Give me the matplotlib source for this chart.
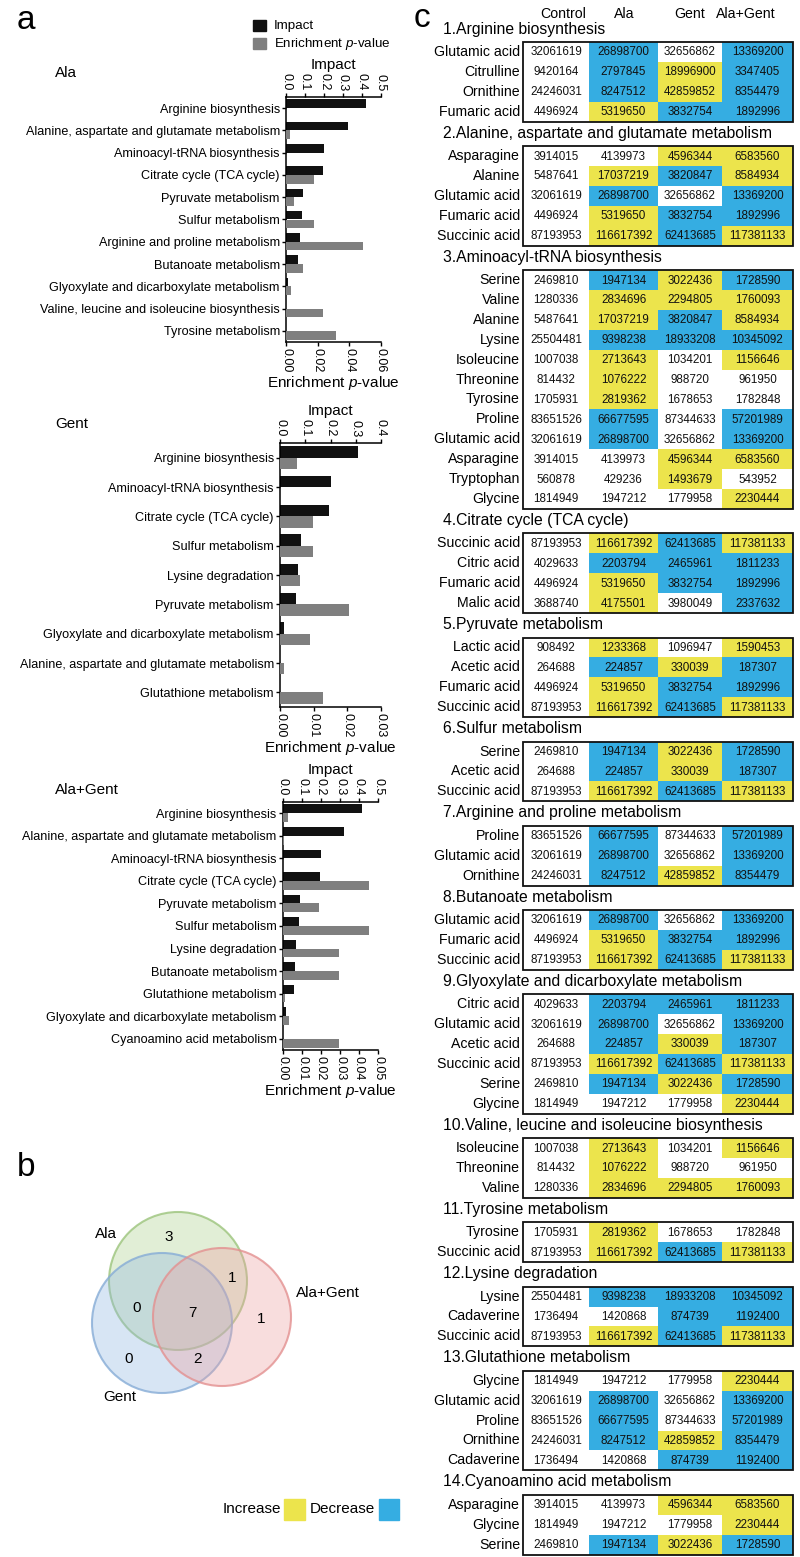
import numpy as np
import matplotlib
matplotlib.use('Agg')
import matplotlib.pyplot as plt
import matplotlib.patches as patches
from matplotlib import font_manager

# ---- panel a data: KEGG pathway analysis ----
ala_paths = ['Arginine biosynthesis', 'Alanine, aspartate and glutamate metabolism',
             'Aminoacyl-tRNA biosynthesis', 'Citrate cycle (TCA cycle)', 'Pyruvate metabolism',
             'Sulfur metabolism', 'Arginine and proline metabolism', 'Butanoate metabolism',
             'Glyoxylate and dicarboxylate metabolism', 'Valine, leucine and isoleucine biosynthesis',
             'Tyrosine metabolism']
ala_impact = [0.42, 0.326, 0.20, 0.195, 0.09, 0.084, 0.074, 0.063, 0.012, 0.0, 0.0]
ala_p = [0.0003, 0.0025, 0.0002, 0.0177, 0.005, 0.0177, 0.0486, 0.011, 0.003, 0.0234, 0.0316]

gent_paths = ['Arginine biosynthesis', 'Aminoacyl-tRNA biosynthesis', 'Citrate cycle (TCA cycle)',
              'Sulfur metabolism', 'Lysine degradation', 'Pyruvate metabolism',
              'Glyoxylate and dicarboxylate metabolism', 'Alanine, aspartate and glutamate metabolism',
              'Glutathione metabolism']
gent_impact = [0.31, 0.20, 0.195, 0.084, 0.071, 0.063, 0.015, 0.0, 0.0]
gent_p = [0.005, 0.0001, 0.0098, 0.0098, 0.006, 0.0205, 0.0089, 0.0012, 0.0128]

ag_paths = ['Arginine biosynthesis', 'Alanine, aspartate and glutamate metabolism',
            'Aminoacyl-tRNA biosynthesis', 'Citrate cycle (TCA cycle)', 'Pyruvate metabolism',
            'Sulfur metabolism', 'Lysine degradation', 'Butanoate metabolism',
            'Glutathione metabolism', 'Glyoxylate and dicarboxylate metabolism',
            'Cyanoamino acid metabolism']
ag_impact = [0.416, 0.32, 0.20, 0.195, 0.09, 0.084, 0.07, 0.063, 0.058, 0.015, 0.0]
ag_p = [0.0026, 0.0005, 0.0001, 0.0453, 0.019, 0.0453, 0.0295, 0.0295, 0.001, 0.003, 0.0295]

# ---- panel b data: venn region counts ----
venn_counts = {'Ala': 3, 'Ala&AG': 1, 'Ala&Gent': 0, 'all': 7, 'AG': 1, 'Gent': 0, 'Gent&AG': 2}

# ---- panel c data: metabolite peak areas ----
metabolites = ['Glutamic acid', 'Citrulline', 'Ornithine', 'Fumaric acid', 'Asparagine', 'Alanine',
               'Succinic acid', 'Serine', 'Valine', 'Lysine', 'Isoleucine', 'Threonine', 'Tyrosine',
               'Proline', 'Tryptophan', 'Glycine', 'Citric acid', 'Malic acid', 'Lactic acid',
               'Acetic acid', 'Cadaverine']
control = [32061619, 9420164, 24246031, 4496924, 3914015, 5487641, 87193953, 2469810, 1280336,
           25504481, 1007038, 814432, 1705931, 83651526, 560878, 1814949, 4029633, 3688740,
           908492, 264688, 1736494]
ala = [26898700, 2797845, 8247512, 5319650, 4139973, 17037219, 116617392, 1947134, 2834696,
       9398238, 2713643, 1076222, 2819362, 66677595, 429236, 1947212, 2203794, 4175501,
       1233368, 224857, 1420868]
gent = [32656862, 18996900, 42859852, 3832754, 4596344, 3820847, 62413685, 3022436, 2294805,
        18933208, 1034201, 988720, 1678653, 87344633, 1493679, 1779958, 2465961, 3980049,
        1096947, 330039, 874739]
alagent = [13369200, 3347405, 8354479, 1892996, 6583560, 8584934, 117381133, 1728590, 1760093,
           10345092, 1156646, 961950, 1782848, 57201989, 543952, 2230444, 1811233, 2337632,
           1590453, 187307, 1192400]
# change vs control for Ala / Gent / Ala+Gent: U increase, D decrease, N no change
change = ['DND', 'DUD', 'DUD', 'UDD', 'NUU', 'UDU', 'UDU', 'DUD', 'UUU', 'DDD', 'UNU', 'UNN', 'UNN',
          'DND', 'NUN', 'NNU', 'DDD', 'UND', 'UNU', 'DUD', 'NDD']

sections = [
    ('1.Arginine biosynthesis', ['Glutamic acid', 'Citrulline', 'Ornithine', 'Fumaric acid']),
    ('2.Alanine, aspartate and glutamate metabolism',
     ['Asparagine', 'Alanine', 'Glutamic acid', 'Fumaric acid', 'Succinic acid']),
    ('3.Aminoacyl-tRNA biosynthesis',
     ['Serine', 'Valine', 'Alanine', 'Lysine', 'Isoleucine', 'Threonine', 'Tyrosine', 'Proline',
      'Glutamic acid', 'Asparagine', 'Tryptophan', 'Glycine']),
    ('4.Citrate cycle (TCA cycle)', ['Succinic acid', 'Citric acid', 'Fumaric acid', 'Malic acid']),
    ('5.Pyruvate metabolism', ['Lactic acid', 'Acetic acid', 'Fumaric acid', 'Succinic acid']),
    ('6.Sulfur metabolism', ['Serine', 'Acetic acid', 'Succinic acid']),
    ('7.Arginine and proline metabolism', ['Proline', 'Glutamic acid', 'Ornithine']),
    ('8.Butanoate metabolism', ['Glutamic acid', 'Fumaric acid', 'Succinic acid']),
    ('9.Glyoxylate and dicarboxylate metabolism',
     ['Citric acid', 'Glutamic acid', 'Acetic acid', 'Succinic acid', 'Serine', 'Glycine']),
    ('10.Valine, leucine and isoleucine biosynthesis', ['Isoleucine', 'Threonine', 'Valine']),
    ('11.Tyrosine metabolism', ['Tyrosine', 'Succinic acid']),
    ('12.Lysine degradation', ['Lysine', 'Cadaverine', 'Succinic acid']),
    ('13.Glutathione metabolism', ['Glycine', 'Glutamic acid', 'Proline', 'Ornithine', 'Cadaverine']),
    ('14.Cyanoamino acid metabolism', ['Asparagine', 'Glycine', 'Serine']),
]
groups = ['Control', 'Ala', 'Gent', 'Ala+Gent']

# fonts: condensed look if available
names = {f.name for f in font_manager.fontManager.ttflist}
NARROW = 'Liberation Sans Narrow' in names
label_font = 'Liberation Sans Narrow' if NARROW else 'Liberation Sans'
plt.rcParams['font.family'] = ['Liberation Sans', 'DejaVu Sans']
plt.rcParams['mathtext.fontset'] = 'custom'
plt.rcParams['mathtext.it'] = label_font + ':italic'
plt.rcParams['mathtext.rm'] = label_font

lab_size = 11.5 if NARROW else 9.1
tab_size = 12.8 if NARROW else 10.2
title_size = 13.5 if NARROW else 11.3

YELLOW = '#ECE44C'
BLUE = '#35ADE2'
GRAY = '#7f7f7f'

W, H = 800, 1557
fig = plt.figure(figsize=(W / 100, H / 100), dpi=100)
bg = fig.add_axes([0, 0, 1, 1])
bg.set_xlim(0, W)
bg.set_ylim(H, 0)
bg.axis('off')


def px_axes(left, top, right, bottom):
    return fig.add_axes([left / W, 1 - bottom / H, (right - left) / W, (bottom - top) / H])


def bar_panel(box, paths, impact, pval, imax, pmax, pstep, name, name_y):
    ax = px_axes(*box)
    ax2 = ax.twiny()
    y = np.arange(len(paths))
    h = 0.39
    # impact on the top axis
    ax.barh(y - h / 2, impact, height=h, color='#111111')
    ax.set_xlim(0, imax)
    ax.set_ylim(len(paths) - 0.5, -0.5)
    ax.xaxis.tick_top()
    ax.xaxis.set_label_position('top')
    it = np.arange(0, imax + 1e-9, 0.1)
    ax.set_xticks(it)
    ax.set_xticklabels(['%.1f' % v for v in it], rotation=-90, fontsize=9)
    ax.set_xlabel('Impact', fontsize=title_size - 0.3, family=label_font, labelpad=3)
    ax.set_yticks(y)
    ax.set_yticklabels(paths, fontsize=lab_size, family=label_font)
    ax.tick_params(axis='both', length=3, width=1, pad=1.5)
    for s in ['bottom', 'right']:
        ax.spines[s].set_visible(False)
    for s in ['top', 'left']:
        ax.spines[s].set_linewidth(1.1)
    # enrichment p-value on the bottom axis
    ax2.barh(y + h / 2, pval, height=h, color=GRAY)
    ax2.set_xlim(0, pmax)
    ax2.set_ylim(len(paths) - 0.5, -0.5)
    ax2.xaxis.tick_bottom()
    ax2.xaxis.set_label_position('bottom')
    pt = np.arange(0, pmax + 1e-9, pstep)
    ax2.set_xticks(pt)
    ax2.set_xticklabels(['%.2f' % v for v in pt], rotation=-90, fontsize=9)
    ax2.set_xlabel('Enrichment $\\it{p}$-value', fontsize=title_size - 0.3, family=label_font, labelpad=1)
    ax2.tick_params(axis='x', length=3, width=1, pad=1.5)
    for s in ['top', 'right', 'left']:
        ax2.spines[s].set_visible(False)
    ax2.spines['bottom'].set_linewidth(1.1)
    bg.text(55, name_y, name, fontsize=title_size - 0.3, family=label_font, va='center', ha='left')


bar_panel((286, 97, 381, 342), ala_paths, ala_impact, ala_p, 0.5, 0.06, 0.02, 'Ala', 73)
bar_panel((280, 443, 381, 707), gent_paths, gent_impact, gent_p, 0.4, 0.03, 0.01, 'Gent', 424)
bar_panel((283, 802, 378, 1050), ag_paths, ag_impact, ag_p, 0.5, 0.05, 0.01, 'Ala+Gent', 790)

# legend of panel a
bg.add_patch(patches.Rectangle((253, 20), 13, 11, color='#111111'))
bg.add_patch(patches.Rectangle((253, 38), 13, 11, color=GRAY))
bg.text(274, 25.5, 'Impact', fontsize=lab_size + 0.5, family=label_font, va='center')
bg.text(274, 43.5, 'Enrichment $\\it{p}$-value', fontsize=lab_size + 0.5, family=label_font, va='center')

# panel letters
for letter, (lx, ly) in zip('abc', [(17, 20), (17, 1168), (414, 18)]):
    bg.text(lx, ly, letter, fontsize=24, va='center', ha='left')

# ---- panel b: venn ----
circles = [((178, 1281), 69, '#a9cf8a', '#9cc47c'),   # Ala
           ((162, 1323), 70, '#8fb6e0', '#86acd6'),   # Gent
           ((222, 1317), 69, '#eda0a0', '#e39090')]   # Ala+Gent
for (c, r, fc, ec) in circles:
    bg.add_patch(patches.Circle(c, r, facecolor=fc, alpha=0.35, edgecolor='none'))
    bg.add_patch(patches.Circle(c, r, facecolor='none', edgecolor=ec, lw=1.5, alpha=0.8))
venn_pos = {'Ala': (169, 1237), 'Ala&AG': (232, 1278), 'Ala&Gent': (137, 1308), 'all': (192, 1313),
            'AG': (261, 1319), 'Gent': (129, 1359), 'Gent&AG': (197, 1359)}
for k, v in venn_counts.items():
    bg.text(*venn_pos[k], str(v), fontsize=11, ha='center', va='center')
bg.text(106, 1234, 'Ala', fontsize=title_size - 0.3, family=label_font, ha='center', va='center')
bg.text(120, 1397, 'Gent', fontsize=title_size - 0.3, family=label_font, ha='center', va='center')
bg.text(296, 1293, 'Ala+Gent', fontsize=title_size - 0.3, family=label_font, ha='left', va='center')

# legend increase / decrease
bg.text(281, 1509, 'Increase', fontsize=title_size - 0.3, family=label_font, ha='right', va='center')
bg.add_patch(patches.Rectangle((284, 1499), 21, 21, color=YELLOW))
bg.text(375, 1509, 'Decrease', fontsize=title_size - 0.3, family=label_font, ha='right', va='center')
bg.add_patch(patches.Rectangle((379, 1499), 20, 21, color=BLUE))

# ---- panel c: table ----
col_edges = [523, 589, 658, 722, 793]
for gname, cx in zip(groups, [563, 624, 690, 746]):
    bg.text(cx, 14, gname, fontsize=tab_size, family=label_font, ha='center', va='center')

color_of = {'U': YELLOW, 'D': BLUE, 'N': 'white'}
row_h = 19.9
gap = 24.5
top = 42
for title, mets in sections:
    bg.text(443, top - 13, title, fontsize=title_size, family=label_font, ha='left', va='center')
    for i, m in enumerate(mets):
        k = metabolites.index(m)
        vals = [control[k], ala[k], gent[k], alagent[k]]
        flags = 'N' + change[k]
        ry = top + i * row_h
        for j in range(4):
            x0, x1 = col_edges[j], col_edges[j + 1]
            bg.add_patch(patches.Rectangle((x0, ry), x1 - x0, row_h, facecolor=color_of[flags[j]],
                                           edgecolor='none'))
            bg.text((x0 + x1) / 2, ry + row_h / 2 + 0.5, str(vals[j]), fontsize=8.4,
                    ha='center', va='center', color='#111111')
        bg.text(col_edges[0] - 3, ry + row_h / 2, m, fontsize=tab_size, family=label_font,
                ha='right', va='center')
    bg.add_patch(patches.Rectangle((col_edges[0], top), col_edges[-1] - col_edges[0], len(mets) * row_h,
                                   fill=False, edgecolor='#111111', lw=1.3))
    top += len(mets) * row_h + gap

fig.savefig('out.png', dpi=100)
